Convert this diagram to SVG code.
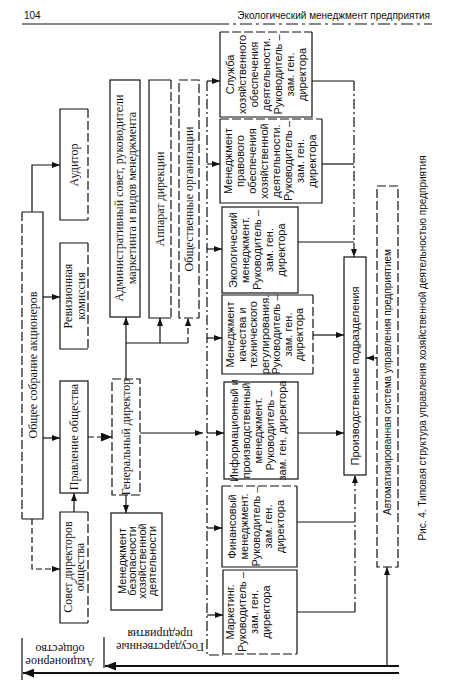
<svg xmlns="http://www.w3.org/2000/svg" width="450" height="684" viewBox="0 0 450 684">
<style>
.bg{fill:#fff}
.b{fill:#fff;stroke:#111;stroke-width:1.2}
.bd{fill:#fff;stroke:#111;stroke-width:1.2;stroke-dasharray:9 3}
.e{fill:none;stroke:#111;stroke-width:1.2}
.ed{fill:none;stroke:#111;stroke-width:1.2;stroke-dasharray:9 3}
.c{fill:none;stroke:#111;stroke-width:1.2}
.dash{stroke-dasharray:6 3}
.dd{stroke-dasharray:10 3 2 3}
.thick{stroke-width:2.2}
text{fill:#111}
.s{font-family:"Liberation Serif","Times New Roman",serif;font-size:12px}
.n{font-family:"Liberation Sans",Arial,sans-serif;font-size:11px}
.m{font-family:"Liberation Sans",Arial,sans-serif;font-size:10px}
</style>
<defs>
<marker id="a" viewBox="0 0 8 6" refX="8" refY="3" markerWidth="8" markerHeight="6" markerUnits="userSpaceOnUse" orient="auto"><path d="M0,0 L8,3 L0,6 z" fill="#111"/></marker>
<marker id="big" viewBox="0 0 10 8" refX="10" refY="4" markerWidth="11" markerHeight="9" markerUnits="userSpaceOnUse" orient="auto"><path d="M0,0 L10,4 L0,8 z" fill="#111"/></marker>
</defs>
<rect width="450" height="684" fill="#fff"/>

<g id="header">
<text class="m" x="24" y="19" font-size="11">104</text>
<text class="m" x="430" y="19" text-anchor="end">Экологический менеджмент предприятия</text>
<line x1="22" y1="24" x2="217" y2="24" stroke="#111" stroke-width="1"/>
<line x1="217" y1="24" x2="432" y2="24" stroke="#111" stroke-width="1" stroke-dasharray="12 4 3 4"/>
</g>

<g id="connectors" class="c">
<path d="M32,212 V165 H60" marker-end="url(#a)"/>
<path d="M43,297 H60" marker-end="url(#a)"/>
<path d="M43,438 H60" marker-end="url(#a)"/>
<path class="dash" d="M32,519 V569 H60" marker-end="url(#a)"/>
<path d="M74,512 V493" marker-end="url(#a)"/>
<path class="dash" d="M88,437 H112" marker-end="url(#big)"/>
<path d="M126,379 V317" marker-end="url(#a)"/>
<path d="M126,343 H188"/>
<path d="M160,343 V318" marker-end="url(#a)"/>
<path class="dash" d="M188,343 V318" marker-end="url(#a)"/>
<path d="M126,495 V513" marker-end="url(#a)"/>
<path d="M140,433 H203" marker-end="url(#a)"/>
<path class="dd" d="M207,81 V655 H223"/>
<path d="M207,81 H220" marker-end="url(#a)"/>
<path d="M207,164 H220" marker-end="url(#a)"/>
<path d="M207,249 H222" marker-end="url(#a)"/>
<path d="M207,338 H222" marker-end="url(#a)"/>
<path d="M207,433 H224" marker-end="url(#a)"/>
<path d="M207,528 H222" marker-end="url(#a)"/>
<path d="M207,615 H223" marker-end="url(#a)"/>
<path d="M312,81 H354"/>
<path class="dd" d="M354,81 V257" marker-end="url(#a)"/>
<path d="M322,164 H354"/>
<path d="M298,242 H354"/>
<path d="M313,335 H344" marker-end="url(#a)"/>
<path d="M298,433 H344" marker-end="url(#a)"/>
<path d="M297,522 H355"/>
<path d="M297,612 H355"/>
<path class="dd" d="M355,612 V475" marker-end="url(#a)"/>
<path d="M377,358 H366" marker-end="url(#a)"/>
<path class="thick" d="M399,666 H105" marker-end="url(#big)"/>
<path d="M387,666 V567" marker-end="url(#a)"/>
<path class="thick" d="M399,673 H23" marker-end="url(#big)"/>
</g>

<g id="n-obshchee">
<rect class="bg" x="22" y="212" width="21" height="307"/>
<path class="e" d="M22,212 H43 V519 H22"/>
<path class="ed" d="M22,212 V519"/>
<text class="s" transform="translate(32.5,365) rotate(-90)" y="4" text-anchor="middle">Общее собрание акционеров</text>
</g>

<g id="n-auditor">
<rect class="bg" x="60" y="109" width="28" height="111"/>
<path class="e" d="M88,109 H60 V220 H88"/>
<path class="ed" d="M88,109 V220"/>
<text class="s" transform="translate(74,165) rotate(-90)" y="4" text-anchor="middle">Аудитор</text>
</g>

<g id="n-revizia">
<rect class="bg" x="60" y="243" width="28" height="106"/>
<path class="e" d="M88,243 H60 V349 H88"/>
<path class="ed" d="M88,243 V349"/>
<text class="s" transform="translate(74.5,296) rotate(-90)" text-anchor="middle"><tspan x="0" y="-2.5">Ревизионная</tspan><tspan x="0" y="10.5">комиссия</tspan></text>
</g>

<g id="n-pravlenie">
<rect class="b" x="60" y="381" width="28" height="112"/>
<text class="s" transform="translate(74,437) rotate(-90)" y="4" text-anchor="middle">Правление общества</text>
</g>

<g id="n-sovet">
<rect class="bg" x="60" y="512" width="28" height="111"/>
<path class="e" d="M88,512 H60 V623 H88"/>
<path class="ed" d="M88,512 V623"/>
<text class="s" transform="translate(74,567) rotate(-90)" text-anchor="middle"><tspan x="0" y="-2">Совет директоров</tspan><tspan x="0" y="10">общества</tspan></text>
</g>

<g id="n-gendir">
<rect class="bd" x="112" y="379" width="28" height="116"/>
<text class="s" transform="translate(126,437) rotate(-90)" y="4" text-anchor="middle">Генеральный директор</text>
</g>

<g id="n-bezopasnost">
<rect class="b" x="111" y="513" width="51" height="97"/>
<text class="n" transform="translate(137,561) rotate(-90)" text-anchor="middle"><tspan x="0" y="-11">Менеджмент</tspan><tspan x="0" y="-1">безопасности</tspan><tspan x="0" y="9">хозяйственной</tspan><tspan x="0" y="19">деятельности</tspan></text>
</g>

<g id="n-admsovet">
<rect class="b" x="110" y="80" width="30" height="237"/>
<text class="s" transform="translate(125,198) rotate(-90)" text-anchor="middle"><tspan x="0" y="-2.5">Административный совет, руководители</tspan><tspan x="0" y="10.5">маркетинга и видов менеджмента</tspan></text>
</g>

<g id="n-apparat">
<rect class="bg" x="149" y="80" width="22" height="238"/>
<path class="e" d="M171,80 H149 V318 H171"/>
<path class="ed" d="M171,80 V318"/>
<text class="s" transform="translate(160,199) rotate(-90)" y="4" text-anchor="middle">Аппарат дирекции</text>
</g>

<g id="n-obshchestv">
<rect class="bd" x="179" y="80" width="20" height="238"/>
<text class="s" transform="translate(189,199) rotate(-90)" y="4" text-anchor="middle">Общественные организации</text>
</g>

<g id="n-sluzhba">
<rect class="bg" x="220" y="32" width="92" height="85"/>
<path class="e" d="M220,32 V117 H312 V32"/>
<path class="ed" d="M220,32 H312"/>
<text class="n" transform="translate(266,74.5) rotate(-90)" text-anchor="middle"><tspan x="0" y="-32">Служба</tspan><tspan x="0" y="-20">хозяйственного</tspan><tspan x="0" y="-8">обеспечения</tspan><tspan x="0" y="4">деятельности.</tspan><tspan x="0" y="16">Руководитель –</tspan><tspan x="0" y="28">зам. ген.</tspan><tspan x="0" y="40">директора</tspan></text>
</g>

<g id="n-pravovoy">
<rect class="bg" x="220" y="119" width="102" height="84"/>
<path class="e" d="M220,119 V203 H322 V119"/>
<path class="ed" d="M220,119 H322"/>
<text class="n" transform="translate(270,161) rotate(-90)" text-anchor="middle"><tspan x="0" y="-38">Менеджмент</tspan><tspan x="0" y="-26">правового</tspan><tspan x="0" y="-14">обеспечения</tspan><tspan x="0" y="-2">хозяйственной</tspan><tspan x="0" y="10">деятельности.</tspan><tspan x="0" y="22">Руководитель –</tspan><tspan x="0" y="34">зам. ген.</tspan><tspan x="0" y="46">директора</tspan></text>
</g>

<g id="n-ekolog">
<rect class="b" x="222" y="207" width="76" height="86"/>
<text class="n" transform="translate(257,250) rotate(-90)" text-anchor="middle"><tspan x="0" y="-20">Экологический</tspan><tspan x="0" y="-8">менеджмент.</tspan><tspan x="0" y="4">Руководитель –</tspan><tspan x="0" y="16">зам. ген.</tspan><tspan x="0" y="28">директора</tspan></text>
</g>

<g id="n-kachestvo">
<rect class="bg" x="222" y="295" width="91" height="79"/>
<path class="e" d="M313,295 H222 V374 H313"/>
<path class="ed" d="M313,295 V374"/>
<text class="n" transform="translate(265,334.5) rotate(-90)" text-anchor="middle" font-size="10.5"><tspan x="0" y="-31">Менеджмент</tspan><tspan x="0" y="-19.5">качества и</tspan><tspan x="0" y="-8">технического</tspan><tspan x="0" y="3.5">регулирования.</tspan><tspan x="0" y="15">Руководитель –</tspan><tspan x="0" y="26.5">зам. ген.</tspan><tspan x="0" y="38">директора</tspan></text>
</g>

<g id="n-inform">
<rect class="b" x="224" y="382" width="74" height="97"/>
<text class="n" transform="translate(258,430.5) rotate(-90)" text-anchor="middle" font-size="10.5"><tspan x="0" y="-20">Информационный и</tspan><tspan x="0" y="-8">производственный</tspan><tspan x="0" y="4">менеджмент.</tspan><tspan x="0" y="16">Руководитель –</tspan><tspan x="0" y="28">зам. ген. директора</tspan></text>
</g>

<g id="n-finans">
<rect class="bg" x="222" y="486" width="75" height="81"/>
<path class="e" d="M222,486 V567 H297 V486"/>
<path class="ed" d="M222,486 H297"/>
<text class="n" transform="translate(256,526.5) rotate(-90)" text-anchor="middle"><tspan x="0" y="-20">Финансовый</tspan><tspan x="0" y="-8">менеджмент.</tspan><tspan x="0" y="4">Руководитель –</tspan><tspan x="0" y="16">зам. ген.</tspan><tspan x="0" y="28">директора</tspan></text>
</g>

<g id="n-marketing">
<rect class="bg" x="223" y="570" width="74" height="84"/>
<path class="e" d="M223,654 V570 H297 V654"/>
<path class="ed" d="M223,654 H297"/>
<text class="n" transform="translate(248,612) rotate(-90)" text-anchor="middle"><tspan x="0" y="-14">Маркетинг.</tspan><tspan x="0" y="-2">Руководитель –</tspan><tspan x="0" y="10">зам. ген.</tspan><tspan x="0" y="22">директора</tspan></text>
</g>

<g id="n-proizv">
<rect class="b" x="344" y="257" width="22" height="218"/>
<text class="n" transform="translate(355,376) rotate(-90)" y="4" text-anchor="middle">Производственные подразделения</text>
</g>

<g id="n-asu">
<rect class="bd" x="377" y="186" width="21" height="381"/>
<text class="m" transform="translate(387.5,382) rotate(-90)" y="3.5" text-anchor="middle">Автоматизированная система управления предприятием</text>
</g>

<g id="n-gos">
<line x1="104" y1="637" x2="104" y2="668" stroke="#111" stroke-width="1.2"/>
<text class="s" transform="translate(160,640) rotate(180)" text-anchor="middle" font-size="10.5"><tspan x="0" y="-3">Государственные</tspan><tspan x="0" y="10">предприятия</tspan></text>
</g>

<g id="n-ao">
<line x1="22" y1="638" x2="22" y2="680" stroke="#111" stroke-width="1.2"/>
<text class="s" transform="translate(60,655) rotate(180)" text-anchor="middle" font-size="10.5"><tspan x="0" y="-3">Акционерное</tspan><tspan x="0" y="10">общество</tspan></text>
</g>

<g id="caption">
<text class="m" transform="translate(422,348) rotate(-90)" y="3.5" text-anchor="middle">Рис. 4. Типовая структура управления хозяйственной деятельностью предприятия</text>
</g>
</svg>
